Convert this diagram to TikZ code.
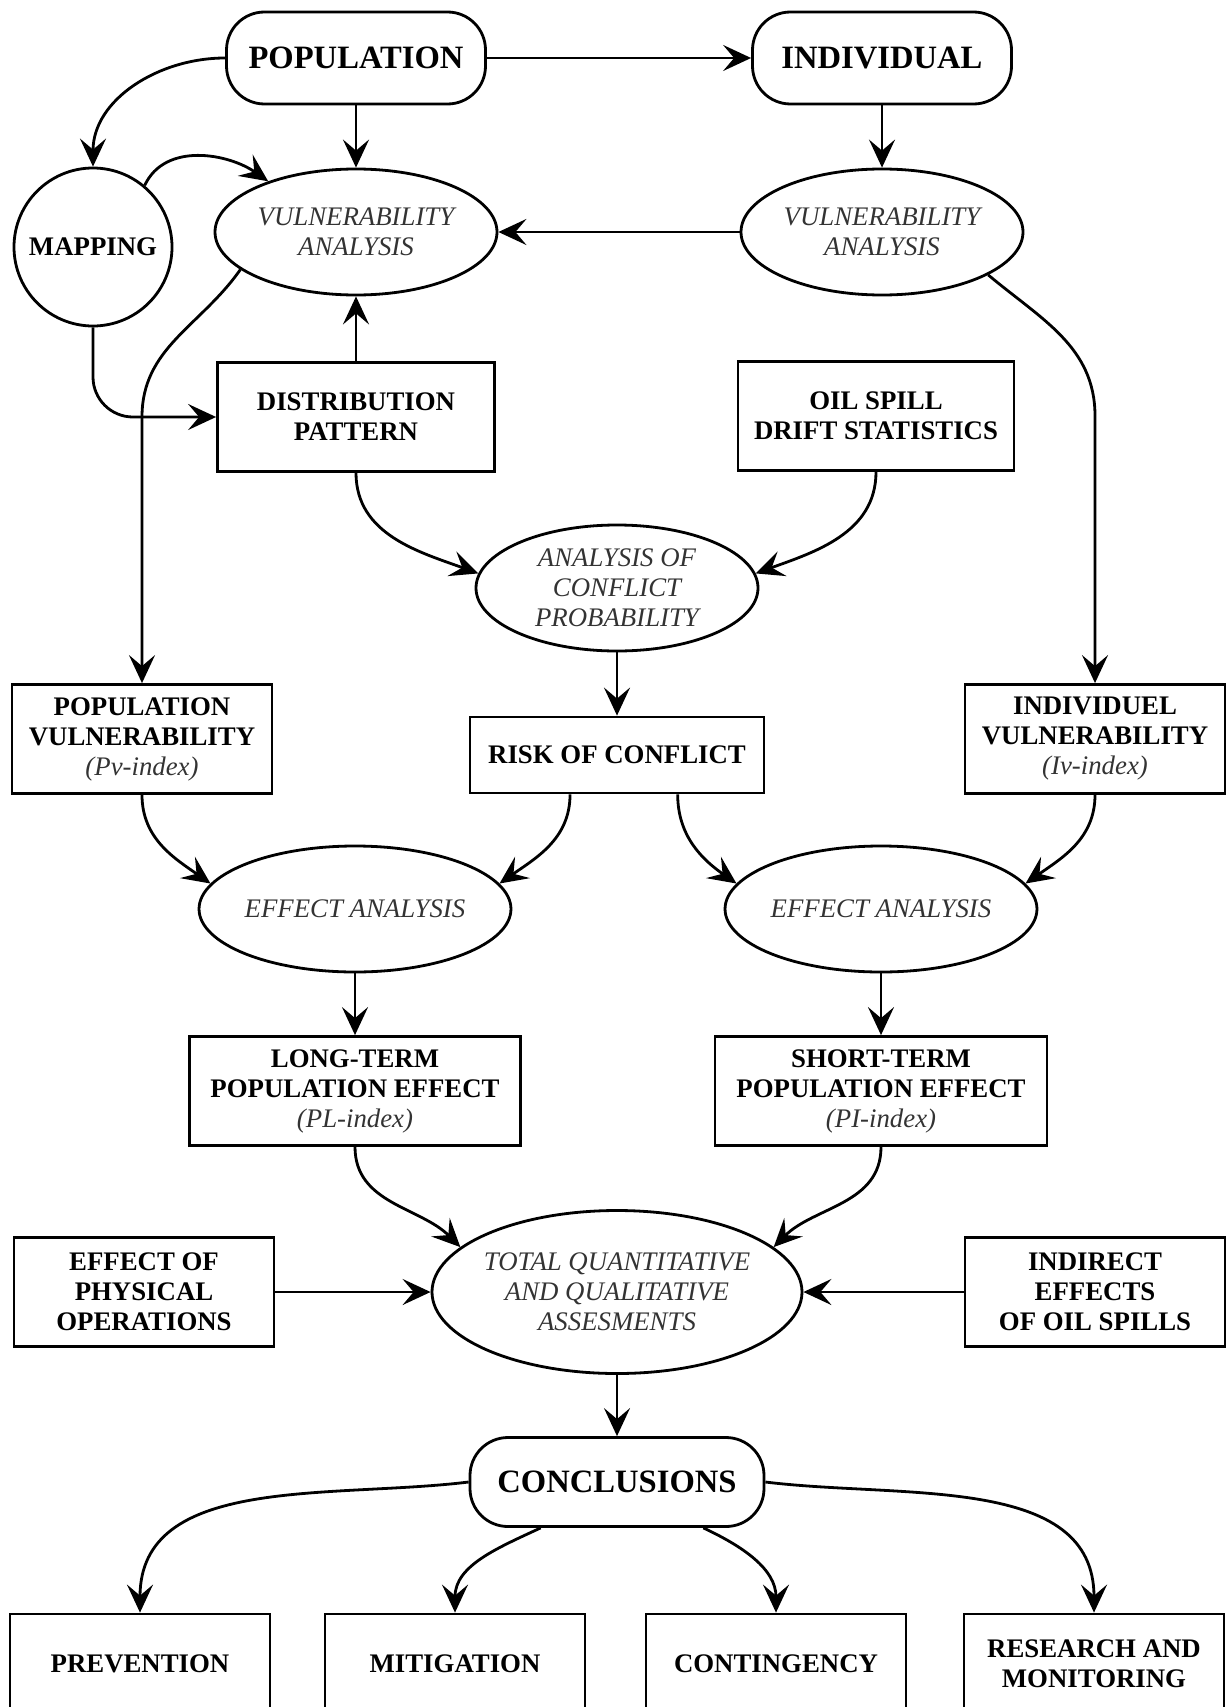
\documentclass[tikz,border=0pt]{standalone}
\usepackage{fontspec}
\setmainfont{Liberation Serif}
\usetikzlibrary{arrows.meta}
\usetikzlibrary{shapes.geometric}

\begin{document}
\begin{tikzpicture}[x=0.5pt, y=-0.5pt, line width=1.4pt]
	\useasboundingbox (0,0) rectangle (1228,1707);

	% rounded terminals
	\begin{scope}[every node/.style={draw, rectangle, rounded corners=19pt, minimum width=129.5pt, minimum height=46pt, font=\fontsize{16.3}{18}\selectfont\bfseries}]
		\node (1) at (356,58) {POPULATION};
		\node (2) at (882,58) {INDIVIDUAL};
		\node[minimum width=147pt, minimum height=44.5pt] (19) at (617,1482) {CONCLUSIONS};
	\end{scope}

	% analysis steps
	\begin{scope}[every node/.style={draw, ellipse, align=center, inner sep=0pt, minimum width=141pt, minimum height=63pt, text=black!80, font=\fontsize{13.4}{15}\selectfont\itshape}]
		\node (4) at (356,232) {VULNERABILITY\\ANALYSIS};
		\node (5) at (882,232) {VULNERABILITY\\ANALYSIS};
		\node (8) at (617,588) {ANALYSIS OF\\CONFLICT\\PROBABILITY};
		\node (12) at (355,909) {EFFECT ANALYSIS};
		\node (13) at (881,909) {EFFECT ANALYSIS};
		\node[minimum width=185pt, minimum height=81.5pt, inner xsep=-5pt] (16) at (617,1292) {TOTAL QUANTITATIVE\\AND QUALITATIVE\\ASSESMENTS};
	\end{scope}

	\node[draw, circle, minimum size=79pt, font=\fontsize{13.4}{15}\selectfont\bfseries] (3) at (93,247) {MAPPING};

	% data boxes
	\begin{scope}[every node/.style={draw, rectangle, align=center, minimum width=130pt, minimum height=54.5pt, font=\fontsize{13.4}{15}\selectfont\bfseries}]
		\node[minimum width=138.5pt] (6) at (356,417) {DISTRIBUTION\\PATTERN};
		\node[minimum width=138pt] (7) at (876,416) {OIL SPILL\\DRIFT STATISTICS};
		\node (9) at (142,739) {POPULATION\\VULNERABILITY\\{\mdseries\itshape\color{black!80}(Pv-index)}};
		\node[minimum width=147pt, minimum height=38pt] (10) at (617,755) {RISK OF CONFLICT};
		\node (11) at (1095,739) {INDIVIDUEL\\VULNERABILITY\\{\mdseries\itshape\color{black!80}(Iv-index)}};
		\node[minimum width=165.5pt] (14) at (355,1091) {LONG-TERM\\POPULATION EFFECT\\{\mdseries\itshape\color{black!80}(PL-index)}};
		\node[minimum width=166pt] (15) at (881,1091) {SHORT-TERM\\POPULATION EFFECT\\{\mdseries\itshape\color{black!80}(PI-index)}};
		\node (17) at (144,1292) {EFFECT OF\\PHYSICAL\\OPERATIONS};
		\node (18) at (1095,1292) {INDIRECT\\EFFECTS\\OF OIL SPILLS};
		\node[minimum height=50pt] (20) at (140,1664) {PREVENTION};
		\node[minimum height=50pt] (21) at (455,1664) {MITIGATION};
		\node[minimum height=50pt] (22) at (776,1664) {CONTINGENCY};
		\node[minimum height=50pt] (23) at (1094,1664) {RESEARCH AND\\MONITORING};
	\end{scope}

	\begin{scope}[>={Stealth[length=14pt, width=13pt, inset=5.5pt]},
	              every edge/.style={draw, ->}]
		\path (1) edge (2);
		\path (1) edge (4);
		\path (2) edge (5);
		\path (5) edge (4);
		\path (6) edge (4);
		\path (1.west) edge[out=180, in=90] (3.north);
		\path (3.50) edge[out=65, in=145] (4.150);
		\draw[->, rounded corners=20pt] (3.south) |- (6.west);
		\draw[->] (4.198) to[out=235, in=90] (9.north |- 6.center) -- (9.north);
		\draw[->] (5.-22) to[out=-40, in=90] (11.north |- 7.center) -- (11.north);
		\path (6.south) edge[out=-90, in=160] (8.174);
		\path (7.south) edge[out=-90, in=20] (8.6);
		\path (8) edge (10);
		\path (9.south) edge[out=-90, in=145] (12.170);
		\path (10.220) edge[out=-90, in=35] (12.10);
		\path (10.-33) edge[out=-90, in=145] (13.170);
		\path (11.south) edge[out=-90, in=35] (13.10);
		\path (12) edge (14);
		\path (13) edge (15);
		\path (14.south) edge[out=-90, in=135] (16.164);
		\path (15.south) edge[out=-90, in=45] (16.16);
		\path (17) edge (16);
		\path (18) edge (16);
		\path (16) edge (19);
		\path (19.west) edge[out=187, in=90] (20.north);
		\path (19.211) edge[out=205, in=90] (21.north);
		\path (19.-28) edge[out=-25, in=90] (22.north);
		\path (19.east) edge[out=-7, in=90] (23.north);
	\end{scope}
\end{tikzpicture}
\end{document}
